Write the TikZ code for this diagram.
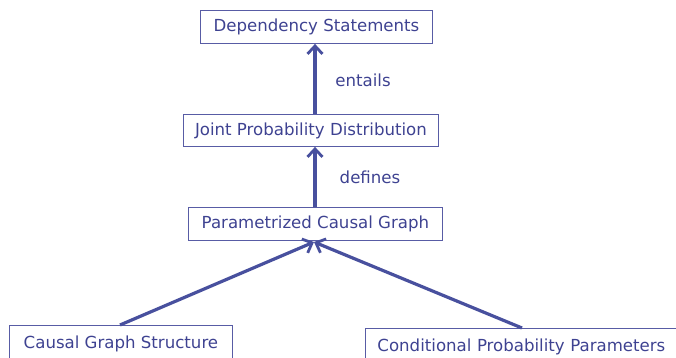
\documentclass[tikz,border=0pt]{standalone}
\usepackage{fontspec}
\setmainfont{DejaVu Sans}
\usetikzlibrary{positioning, arrows.meta}
\definecolor{boxblue}{RGB}{88, 92, 165}
\definecolor{textblue}{RGB}{62, 66, 145}
\definecolor{arrowblue}{RGB}{72, 80, 158}

\begin{document}
\begin{tikzpicture}[x=1pt, y=-1pt, >={Straight Barb[length=8pt, width=15pt, line width=2.8pt]},
    statebox/.style={draw=boxblue, line width=0.9pt, text=textblue, font=\fontsize{16.6}{18}\selectfont,
        minimum height=33pt, inner sep=0pt, anchor=north west},
    link/.style={->, draw=arrowblue, line width=3.2pt},
    linklabel/.style={text=textblue, font=\fontsize{16.6}{18}\selectfont}]
    \useasboundingbox (0,0) rectangle (676,358);
    % boxes
    \node[statebox, minimum width=232pt] (dep) at (200,10) {Dependency Statements};
    \node[statebox, minimum width=255pt, minimum height=32pt] (jpd) at (183,114) {Joint Probability Distribution};
    \node[statebox, minimum width=254pt] (pcg) at (188,207) {Parametrized Causal Graph};
    \node[statebox, minimum width=223pt, minimum height=37pt] (cgs) at (9,325) {Causal Graph Structure};
    \node[statebox, minimum width=318pt, minimum height=37pt, text width=294pt, align=left] (cpp) at (365,328) {Conditional Probability Parameters};
    % arrows
    \draw[link] (pcg.north -| 315,0) -- (jpd.south -| 315,0);
    \draw[link] (jpd.north -| 315,0) -- (dep.south -| 315,0);
    \coordinate (tip) at (314,242);
    \draw[link] (cgs.north -| 120,0) -- (tip);
    \draw[link] (cpp.north -| 522,0) -- (tip);
    % labels
    \node[linklabel] (entails) at (363,80) {entails};
    \node[linklabel] (defines) at (370,177) {defines};
\end{tikzpicture}
\end{document}
